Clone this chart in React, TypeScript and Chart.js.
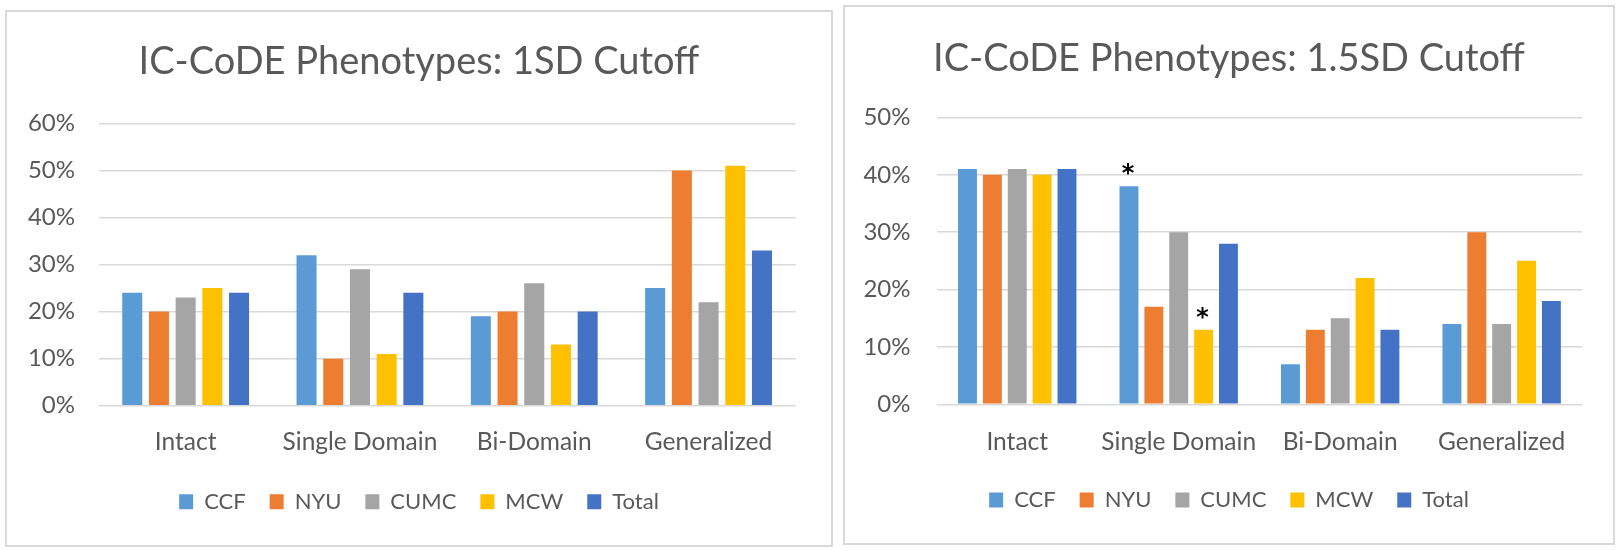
import React, { useEffect, useRef } from "react";
import { Chart, registerables } from "chart.js";

Chart.register(...registerables);

// ---------- data ----------
const categories = ["Intact", "Single Domain", "Bi-Domain", "Generalized"];
const seriesNames = ["CCF", "NYU", "CUMC", "MCW", "Total"];
const seriesColors = ["#5B9BD5", "#ED7D31", "#A5A5A5", "#FFC000", "#4472C4"];

const ccf1SD = [24, 32, 19, 25];
const nyu1SD = [20, 10, 20, 50];
const cumc1SD = [23, 29, 26, 22];
const mcw1SD = [25, 11, 13, 51];
const total1SD = [24, 24, 20, 33];

const ccf15SD = [41, 38, 7, 14];
const nyu15SD = [40, 17, 13, 30];
const cumc15SD = [41, 30, 15, 14];
const mcw15SD = [40, 13, 22, 25];
const total15SD = [41, 28, 13, 18];

const yTicks1SD = [0, 10, 20, 30, 40, 50, 60];
const yTicks15SD = [0, 10, 20, 30, 40, 50];

const title1SD = "IC-CoDE Phenotypes: 1SD Cutoff";
const title15SD = "IC-CoDE Phenotypes: 1.5SD Cutoff";

const starred1SD: { category: string; series: string }[] = [];
const starred15SD = [
  { category: "Single Domain", series: "CCF" },
  { category: "Single Domain", series: "MCW" },
];

// ---------- chart ----------
const FONT = "Lato";
const TEXT = "#595959";

type PanelProps = {
  left: number;
  top: number;
  width: number;
  height: number;
  title: string;
  series: number[][];
  yTicks: number[];
  starred: { category: string; series: string }[];
  plotLeft: number;
  plotRight: number;
  titleTop: number;
  titleBottom: number;
  yPad: number;
  xPad: number;
  xAxisHeight: number;
  legendPad: number;
  bottomPad: number;
  catPct: number;
  barPct: number;
};

function Panel(p: PanelProps) {
  const ref = useRef<HTMLCanvasElement | null>(null);
  useEffect(() => {
    if (!ref.current) return;
    const starPlugin = {
      id: "stars",
      afterDatasetsDraw(chart: any) {
        const ctx = chart.ctx;
        ctx.save();
        ctx.fillStyle = "#000000";
        ctx.font = `bold 24px "DejaVu Sans"`;
        ctx.textAlign = "center";
        ctx.textBaseline = "alphabetic";
        p.starred.forEach((s) => {
          const di = seriesNames.indexOf(s.series);
          const ci = categories.indexOf(s.category);
          const el = chart.getDatasetMeta(di).data[ci];
          if (el) ctx.fillText("*", el.x - 1, el.y - 5);
        });
        ctx.restore();
      },
    };
    const chart = new Chart(ref.current, {
      type: "bar",
      data: {
        labels: categories,
        datasets: seriesNames.map((name, i) => ({
          label: name,
          data: p.series[i],
          backgroundColor: seriesColors[i],
          borderWidth: 0,
          categoryPercentage: p.catPct,
          barPercentage: p.barPct,
        })),
      },
      options: {
        responsive: false,
        animation: false,
        layout: { padding: { left: 0, right: 0, top: 0, bottom: p.bottomPad } },
        plugins: {
          tooltip: { enabled: false },
          title: {
            display: true,
            text: p.title,
            color: TEXT,
            font: { family: FONT, size: 38, weight: "normal", lineHeight: 1.2 },
            padding: { top: p.titleTop, bottom: p.titleBottom },
          },
          legend: {
            display: true,
            position: "bottom",
            labels: {
              color: TEXT,
              font: { family: FONT, size: 22 },
              boxWidth: 14,
              boxHeight: 15,
              padding: p.legendPad,
            },
          },
        },
        scales: {
          x: {
            afterFit: (s: any) => {
              s.height = p.xAxisHeight;
            },
            grid: { display: false, drawTicks: false },
            border: { display: false },
            ticks: { color: TEXT, font: { family: FONT, size: 24.5 }, padding: p.xPad },
          },
          y: {
            min: p.yTicks[0],
            max: p.yTicks[p.yTicks.length - 1],
            afterBuildTicks: (s: any) => {
              s.ticks = p.yTicks.map((v) => ({ value: v }));
            },
            afterFit: (s: any) => {
              s.width = p.plotLeft;
            },
            grid: { color: "#D9D9D9", lineWidth: 1.5, drawTicks: false },
            border: { display: false },
            ticks: {
              color: TEXT,
              font: { family: FONT, size: 24 },
              padding: p.yPad,
              callback: (v: any) => v + "%",
            },
          },
          yRight: {
            position: "right",
            display: true,
            afterFit: (s: any) => {
              s.width = p.width - p.plotRight;
            },
            grid: { display: false, drawTicks: false },
            border: { display: false },
            ticks: { display: false },
          },
        },
      },
      plugins: [starPlugin],
    } as any);
    return () => chart.destroy();
  }, []);
  return (
    <>
      <canvas
        ref={ref}
        width={p.width}
        height={p.height}
        style={{ position: "absolute", left: p.left, top: p.top, width: p.width, height: p.height }}
      />
      <div
        style={{
          position: "absolute",
          left: p.left,
          top: p.top,
          width: p.width,
          height: p.height,
          boxSizing: "border-box",
          border: "2px solid #D9D9D9",
          pointerEvents: "none",
        }}
      />
    </>
  );
}

export default function App() {
  return (
    <div
      style={{
        position: "fixed",
        left: 0,
        top: 0,
        width: 1621,
        height: 551,
        background: "#FFFFFF",
        overflow: "hidden",
      }}
    >
      <Panel
        left={5}
        top={10}
        width={828}
        height={537}
        title={title1SD}
        series={[ccf1SD, nyu1SD, cumc1SD, mcw1SD, total1SD]}
        yTicks={yTicks1SD}
        starred={starred1SD}
        plotLeft={93.5}
        plotRight={790.7}
        titleTop={29}
        titleBottom={38.8}
        yPad={23.5}
        xPad={21.3}
        xAxisHeight={61}
        legendPad={24}
        bottomPad={24.3}
        catPct={0.766}
        barPct={0.75}
      />
      <Panel
        left={843}
        top={5}
        width={772}
        height={540}
        title={title15SD}
        series={[ccf15SD, nyu15SD, cumc15SD, mcw15SD, total15SD]}
        yTicks={yTicks15SD}
        starred={starred15SD}
        plotLeft={93.5}
        plotRight={739.4}
        titleTop={31}
        titleBottom={35.8}
        yPad={26}
        xPad={22.7}
        xAxisHeight={60.7}
        legendPad={24}
        bottomPad={24}
        catPct={0.77}
        barPct={0.76}
      />
    </div>
  );
}
